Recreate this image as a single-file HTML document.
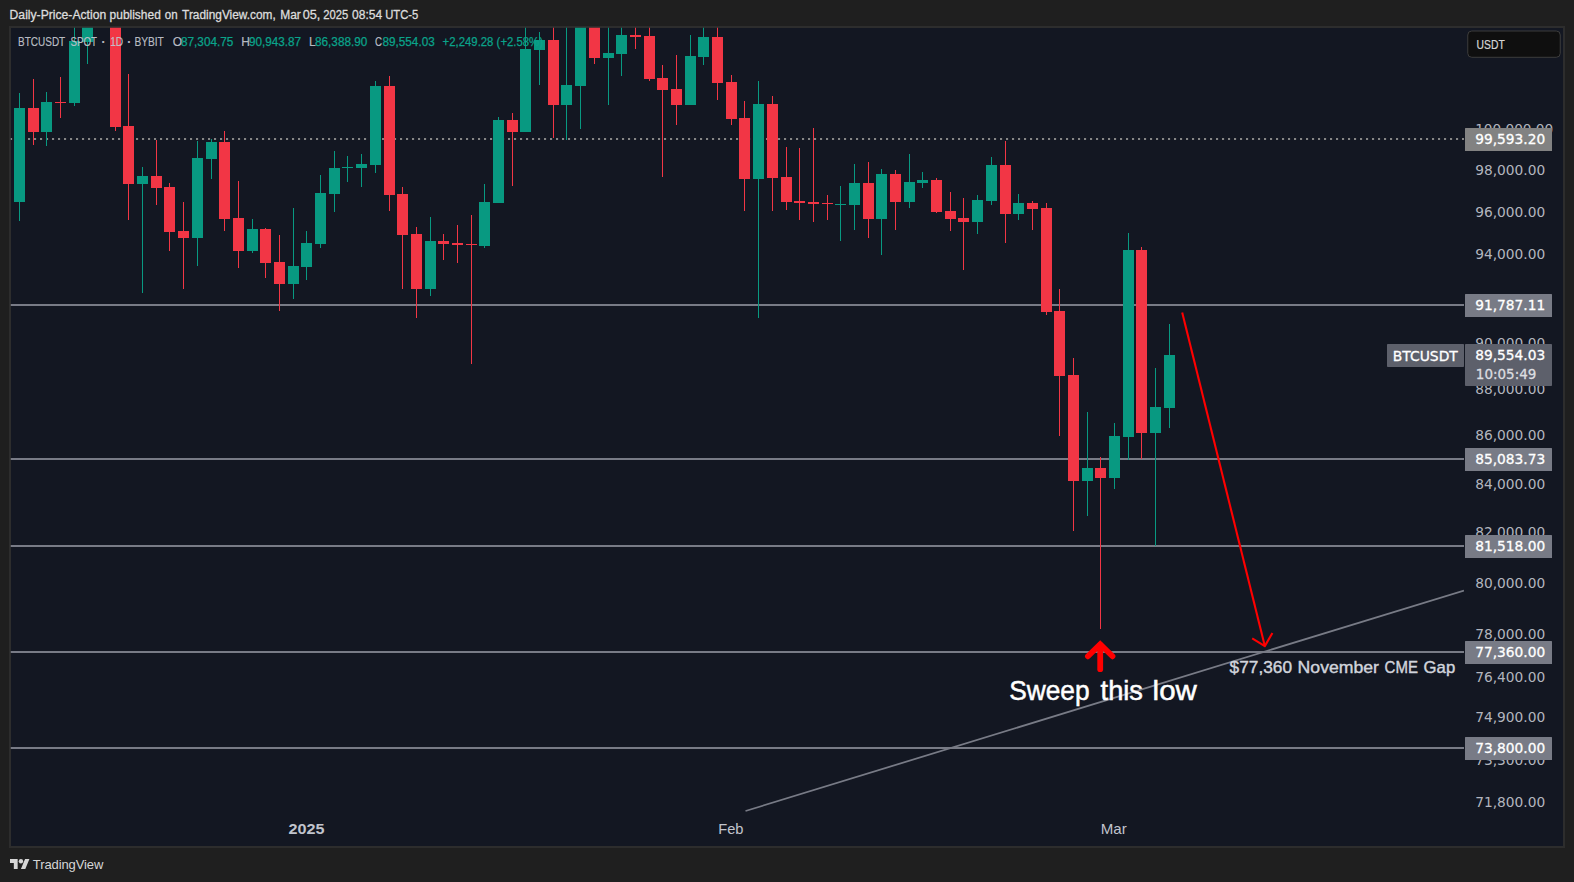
<!DOCTYPE html>
<html lang="en">
<head>
<meta charset="utf-8">
<title>BTCUSDT SPOT 1D BYBIT - TradingView</title>
<style>
html,body{margin:0;padding:0;background:#1f1f1f;}
body{width:1574px;height:882px;overflow:hidden;position:relative;font-family:'Liberation Sans',sans-serif;}
#frame{position:absolute;left:9px;top:25.8px;width:1555.5px;height:821.8px;background:#2d2d2d;}
#pane{position:absolute;left:10.9px;top:27.75px;width:1552.35px;height:818px;background:#131722;}
#chart{position:absolute;left:0;top:0;}
#ftr{position:absolute;left:10px;top:855px;height:18px;display:flex;align-items:center;color:#d6d6d6;font-size:13px;}
#ftr svg{display:block;margin-right:3.5px;}
#ftr span{display:block;line-height:18px;letter-spacing:-0.1px;position:relative;top:0.9px;left:-0.4px;}
</style>
</head>
<body>
<div id="frame"></div>
<div id="pane"></div>
<svg id="chart" width="1574" height="882" viewBox="0 0 1574 882">
<!-- header -->
<text y="19.1" font-family="'Liberation Sans',sans-serif" font-size="12" fill="#dcdcdc" stroke="#dcdcdc" stroke-width="0.3"><tspan x="9.60" textLength="96.60" lengthAdjust="spacingAndGlyphs">Daily-Price-Action</tspan> <tspan x="109.60" textLength="51.20" lengthAdjust="spacingAndGlyphs">published</tspan> <tspan x="164.85" textLength="12.85" lengthAdjust="spacingAndGlyphs">on</tspan> <tspan x="182.10" textLength="93.70" lengthAdjust="spacingAndGlyphs">TradingView.com,</tspan> <tspan x="280.20" textLength="20.60" lengthAdjust="spacingAndGlyphs">Mar</tspan> <tspan x="302.70" textLength="17.60" lengthAdjust="spacingAndGlyphs">05,</tspan> <tspan x="323.35" textLength="24.95" lengthAdjust="spacingAndGlyphs">2025</tspan> <tspan x="352.10" textLength="30.10" lengthAdjust="spacingAndGlyphs">08:54</tspan> <tspan x="385.20" textLength="33.10" lengthAdjust="spacingAndGlyphs">UTC-5</tspan></text>
<defs><clipPath id="cp"><rect x="10.75" y="27.75" width="1453.25" height="818"/></clipPath></defs>
<g clip-path="url(#cp)">
<!-- dotted level 99,593.20 -->
<line x1="10" y1="139" x2="1464" y2="139" stroke="#868686" stroke-width="2.1" stroke-dasharray="2.1 3.9"/>
<!-- horizontal levels -->
<g fill="#787b86">
<rect x="10" y="304" width="1454" height="2"/>
<rect x="10" y="458" width="1454" height="2"/>
<rect x="10" y="545" width="1454" height="2"/>
<rect x="10" y="651" width="1454" height="2"/>
<rect x="10" y="747" width="1454" height="2"/>
</g>
<!-- trend line -->
<line x1="745.5" y1="811" x2="1464" y2="590.5" stroke="#787b86" stroke-width="1.75"/>
<!-- candles -->
<g shape-rendering="crispEdges">
<path fill="#089981" d="M19 93h1v128h-1zM14 108h11v94h-11zM46 92h1v54h-1zM41 102h11v30h-11zM74 20h1v86h-1zM69 41h11v62h-11zM87 20h1v44h-1zM82 20h11v22h-11zM142 167h1v126h-1zM137 176h11v8h-11zM197 141h1v125h-1zM192 158h11v80h-11zM211 139h1v40h-1zM206 142h11v17h-11zM252 219h1v34h-1zM247 229h11v22h-11zM293 208h1v91h-1zM288 266h11v18h-11zM306 231h1v49h-1zM301 243h11v24h-11zM320 175h1v73h-1zM315 193h11v51h-11zM334 151h1v61h-1zM329 168h11v26h-11zM347 156h1v26h-1zM342 167h11v1h-11zM361 154h1v33h-1zM356 164h11v4h-11zM375 81h1v92h-1zM370 86h11v79h-11zM430 217h1v79h-1zM425 241h11v48h-11zM484 184h1v64h-1zM479 202h11v44h-11zM498 117h1v86h-1zM493 120h11v83h-11zM525 20h1v112h-1zM520 49h11v83h-11zM539 32h1v53h-1zM534 40h11v10h-11zM566 20h1v120h-1zM561 85h11v20h-11zM580 20h1v109h-1zM575 20h11v66h-11zM608 20h1v85h-1zM603 53h11v5h-11zM621 20h1v56h-1zM616 35h11v19h-11zM690 35h1v70h-1zM685 56h11v49h-11zM703 20h1v45h-1zM698 37h11v20h-11zM758 81h1v237h-1zM753 104h11v75h-11zM840 186h1v55h-1zM835 204h11v1h-11zM854 164h1v66h-1zM849 183h11v22h-11zM881 169h1v86h-1zM876 174h11v45h-11zM909 154h1v54h-1zM904 182h11v20h-11zM922 172h1v16h-1zM917 180h11v3h-11zM977 195h1v39h-1zM972 200h11v22h-11zM991 157h1v48h-1zM986 165h11v36h-11zM1018 194h1v26h-1zM1013 203h11v11h-11zM1087 412h1v104h-1zM1082 468h11v13h-11zM1114 423h1v66h-1zM1109 436h11v42h-11zM1128 233h1v227h-1zM1123 250h11v187h-11zM1155 368h1v178h-1zM1150 407h11v26h-11zM1169 324h1v104h-1zM1164 355h11v53h-11z"/>
<path fill="#f23645" d="M33 79h1v66h-1zM28 108h11v24h-11zM60 77h1v41h-1zM55 102h11v1h-11zM115 20h1v111h-1zM110 20h11v107h-11zM128 74h1v146h-1zM123 126h11v58h-11zM156 140h1v65h-1zM151 176h11v12h-11zM169 183h1v68h-1zM164 187h11v45h-11zM183 202h1v87h-1zM178 231h11v7h-11zM224 131h1v100h-1zM219 142h11v77h-11zM238 181h1v87h-1zM233 218h11v33h-11zM265 228h1v50h-1zM260 229h11v34h-11zM279 235h1v76h-1zM274 262h11v22h-11zM389 76h1v135h-1zM384 86h11v109h-11zM402 187h1v102h-1zM397 194h11v41h-11zM416 227h1v91h-1zM411 234h11v55h-11zM443 234h1v26h-1zM438 241h11v3h-11zM457 225h1v38h-1zM452 243h11v2h-11zM471 215h1v149h-1zM466 244h11v1h-11zM512 113h1v73h-1zM507 120h11v12h-11zM553 20h1v118h-1zM548 40h11v65h-11zM594 20h1v44h-1zM589 20h11v38h-11zM635 20h1v29h-1zM630 35h11v2h-11zM649 20h1v61h-1zM644 36h11v43h-11zM662 65h1v112h-1zM657 78h11v12h-11zM676 55h1v70h-1zM671 89h11v16h-11zM717 20h1v80h-1zM712 37h11v46h-11zM731 75h1v50h-1zM726 82h11v37h-11zM744 101h1v110h-1zM739 118h11v61h-11zM772 96h1v115h-1zM767 104h11v74h-11zM786 147h1v63h-1zM781 177h11v25h-11zM799 148h1v72h-1zM794 201h11v2h-11zM813 128h1v94h-1zM808 202h11v2h-11zM827 195h1v25h-1zM822 203h11v1h-11zM868 162h1v76h-1zM863 183h11v36h-11zM895 170h1v60h-1zM890 174h11v28h-11zM936 178h1v35h-1zM931 180h11v32h-11zM950 192h1v39h-1zM945 211h11v8h-11zM963 198h1v72h-1zM958 218h11v4h-11zM1005 141h1v102h-1zM1000 165h11v49h-11zM1032 201h1v29h-1zM1027 203h11v6h-11zM1046 203h1v112h-1zM1041 208h11v104h-11zM1059 289h1v147h-1zM1054 311h11v65h-11zM1073 358h1v173h-1zM1068 375h11v106h-11zM1100 457h1v172h-1zM1095 468h11v10h-11zM1141 247h1v212h-1zM1136 250h11v183h-11z"/>
</g>
<!-- annotations -->
<g stroke="#ff0000" stroke-width="2.1" fill="none" stroke-linecap="butt" stroke-linejoin="round">
<line x1="1182.2" y1="312.6" x2="1264.8" y2="646"/>
<polyline points="1252.2,638.3 1264.8,646.1 1272.4,633"/>
</g>
<g stroke="#ff0000" stroke-width="5.8" fill="none" stroke-linecap="round" stroke-linejoin="miter">
<polyline points="1087.9,656.3 1100.2,644.2 1112.5,656.3"/>
<line x1="1100.2" y1="645" x2="1100.2" y2="669.2"/>
</g>
<text y="699.8" font-family="'Liberation Sans',sans-serif" font-size="27.6" fill="#ffffff" stroke="#ffffff" stroke-width="0.5"><tspan x="1009.2" textLength="80.4" lengthAdjust="spacingAndGlyphs">Sweep</tspan> <tspan x="1100.6" textLength="42.4" lengthAdjust="spacingAndGlyphs">this</tspan> <tspan x="1152.6" textLength="44.2" lengthAdjust="spacingAndGlyphs">low</tspan></text>
<text y="673.1" font-family="'Liberation Sans',sans-serif" font-size="16.2" fill="#d1d4dc" stroke="#d1d4dc" stroke-width="0.4"><tspan x="1229.6" textLength="62.4" lengthAdjust="spacingAndGlyphs">$77,360</tspan> <tspan x="1297.6" textLength="81.4" lengthAdjust="spacingAndGlyphs">November</tspan> <tspan x="1384.6" textLength="33.4" lengthAdjust="spacingAndGlyphs">CME</tspan> <tspan x="1423.6" textLength="31.6" lengthAdjust="spacingAndGlyphs">Gap</tspan></text>
<!-- legend -->
<g font-family="'Liberation Sans',sans-serif" font-size="12" fill="#c0c3cb" fill-opacity="0.95" stroke="#c0c3cb" stroke-width="0.22" stroke-opacity="0.9">
<text y="45.9"><tspan x="18.1" textLength="46.9" lengthAdjust="spacingAndGlyphs">BTCUSDT</tspan> <tspan x="70.6" textLength="26.3" lengthAdjust="spacingAndGlyphs">SPOT</tspan> <tspan x="101.6" font-weight="bold">·</tspan> <tspan x="110.2" textLength="13" lengthAdjust="spacingAndGlyphs">1D</tspan> <tspan x="127.2" font-weight="bold">·</tspan> <tspan x="134.4" textLength="29.4" lengthAdjust="spacingAndGlyphs">BYBIT</tspan></text>
<text x="172.8" y="45.9">O</text>
<text x="241.3" y="45.9">H</text>
<text x="308.9" y="45.9">L</text>
<text x="374.9" y="45.9" textLength="7" lengthAdjust="spacingAndGlyphs">C</text>
</g>
<g font-family="'Liberation Sans',sans-serif" font-size="12" fill="#0aa38a" stroke="#0aa38a" stroke-width="0.25">
<text x="181" y="45.9" textLength="52.4" lengthAdjust="spacingAndGlyphs">87,304.75</text>
<text x="248.9" y="45.9" textLength="52.2" lengthAdjust="spacingAndGlyphs">90,943.87</text>
<text x="315" y="45.9" textLength="52.4" lengthAdjust="spacingAndGlyphs">86,388.90</text>
<text x="382.4" y="45.9" textLength="52.4" lengthAdjust="spacingAndGlyphs">89,554.03</text>
<text x="442.6" y="45.9" textLength="100.4" lengthAdjust="spacingAndGlyphs">+2,249.28 (+2.58%)</text>
</g>
</g>
<!-- time axis -->
<g font-family="'Liberation Sans',sans-serif" font-size="14.6" fill="#c1c4cd">
<text x="288.6" y="833.9" font-weight="bold" textLength="36" lengthAdjust="spacingAndGlyphs">2025</text>
<text x="718.2" y="833.9" textLength="25.3" lengthAdjust="spacingAndGlyphs">Feb</text>
<text x="1100.8" y="833.9" textLength="26" lengthAdjust="spacingAndGlyphs">Mar</text>
</g>
<!-- price axis -->
<g font-family="'DejaVu Sans','Liberation Sans',sans-serif" font-size="14.5" fill="#b2b5be">
<text x="1475.2" y="134.3" textLength="78" lengthAdjust="spacingAndGlyphs">100,000.00</text>
<text x="1475.2" y="175.3" textLength="70" lengthAdjust="spacingAndGlyphs">98,000.00</text>
<text x="1475.2" y="217.0" textLength="70" lengthAdjust="spacingAndGlyphs">96,000.00</text>
<text x="1475.2" y="259.0" textLength="70" lengthAdjust="spacingAndGlyphs">94,000.00</text>
<text x="1475.2" y="303.7" textLength="70" lengthAdjust="spacingAndGlyphs">92,000.00</text>
<text x="1475.2" y="348.3" textLength="70" lengthAdjust="spacingAndGlyphs">90,000.00</text>
<text x="1475.2" y="393.9" textLength="70" lengthAdjust="spacingAndGlyphs">88,000.00</text>
<text x="1475.2" y="440.4" textLength="70" lengthAdjust="spacingAndGlyphs">86,000.00</text>
<text x="1475.2" y="488.6" textLength="70" lengthAdjust="spacingAndGlyphs">84,000.00</text>
<text x="1475.2" y="537.2" textLength="70" lengthAdjust="spacingAndGlyphs">82,000.00</text>
<text x="1475.2" y="587.5" textLength="70" lengthAdjust="spacingAndGlyphs">80,000.00</text>
<text x="1475.2" y="639.4" textLength="70" lengthAdjust="spacingAndGlyphs">78,000.00</text>
<text x="1475.2" y="681.6" textLength="70" lengthAdjust="spacingAndGlyphs">76,400.00</text>
<text x="1475.2" y="721.6" textLength="70" lengthAdjust="spacingAndGlyphs">74,900.00</text>
<text x="1475.2" y="765.2" textLength="70" lengthAdjust="spacingAndGlyphs">73,300.00</text>
<text x="1475.2" y="807.2" textLength="70" lengthAdjust="spacingAndGlyphs">71,800.00</text>
</g>
<g font-family="'DejaVu Sans','Liberation Sans',sans-serif" font-size="14.5" fill="#ffffff" stroke="#ffffff" stroke-width="0.3" paint-order="stroke">
<rect x="1465" y="128" width="87" height="23" rx="0.6" fill="#828282" stroke="none"/><text x="1475.2" y="143.8" textLength="70" lengthAdjust="spacingAndGlyphs">99,593.20</text>
<rect x="1465" y="294" width="87" height="23" rx="0.6" fill="#787b86" stroke="none"/><text x="1475.2" y="309.8" textLength="70" lengthAdjust="spacingAndGlyphs">91,787.11</text>
<rect x="1465" y="448" width="87" height="23" rx="0.6" fill="#787b86" stroke="none"/><text x="1475.2" y="463.8" textLength="70" lengthAdjust="spacingAndGlyphs">85,083.73</text>
<rect x="1465" y="535" width="87" height="23" rx="0.6" fill="#787b86" stroke="none"/><text x="1475.2" y="550.8" textLength="70" lengthAdjust="spacingAndGlyphs">81,518.00</text>
<rect x="1465" y="641" width="87" height="23" rx="0.6" fill="#787b86" stroke="none"/><text x="1475.2" y="656.8" textLength="70" lengthAdjust="spacingAndGlyphs">77,360.00</text>
<rect x="1465" y="737" width="87" height="23" rx="0.6" fill="#787b86" stroke="none"/><text x="1475.2" y="752.8" textLength="70" lengthAdjust="spacingAndGlyphs">73,800.00</text>

<rect x="1387" y="344" width="77" height="23" rx="0.8" fill="#5d606b" stroke="none"/>
<rect x="1465" y="344" width="87" height="42" rx="0.8" fill="#5d606b" stroke="none"/>
<text x="1392.8" y="360.6" textLength="65" lengthAdjust="spacingAndGlyphs">BTCUSDT</text>
<text x="1475.2" y="359.8" textLength="70" lengthAdjust="spacingAndGlyphs">89,554.03</text>
<text x="1475.8" y="378.8" textLength="60.6" lengthAdjust="spacingAndGlyphs" fill="#dcdde0" stroke="#dcdde0">10:05:49</text>
</g>
<!-- currency box -->
<rect x="1467.75" y="31" width="92.5" height="26.3" rx="4" fill="#0f0f0f" stroke="#3d3d3d" stroke-width="1"/>
<text x="1476.6" y="49" font-family="'Liberation Sans',sans-serif" font-size="12" fill="#d6d6d6" stroke="#d6d6d6" stroke-width="0.2" textLength="28.2" lengthAdjust="spacingAndGlyphs">USDT</text>
</svg>
<div id="ftr"><svg width="19.7" height="10" viewBox="0 4 36 18"><path fill="#d6d6d6" d="M14 22H7V11H0V4h14v18zM28 22h-8l7.5-18h8L28 22z"/><circle fill="#d6d6d6" cx="20" cy="8" r="4"/></svg><span>TradingView</span></div>
</body>
</html>
